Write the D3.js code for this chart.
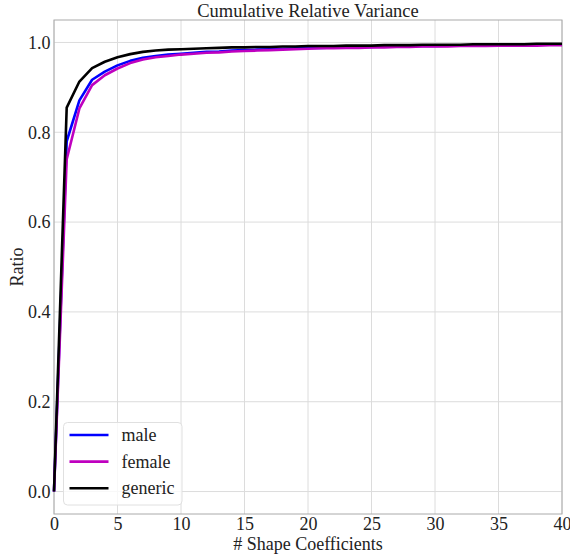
<!DOCTYPE html>
<html>
<head>
<meta charset="utf-8">
<script src="https://cdn.jsdelivr.net/npm/d3@7"></script>
<style>
body { margin: 0; background: #fff; }
text { font-family: "Liberation Serif", "DejaVu Serif", serif; fill: #222; }
</style>
</head>
<body>
<script>
// number of shape coefficients 0..40
var coeffs = d3.range(0, 41);
var male = [0, 0.78, 0.871, 0.917, 0.935, 0.949, 0.959, 0.966, 0.970, 0.973, 0.975, 0.977, 0.979, 0.980, 0.982, 0.983, 0.984, 0.985, 0.986, 0.987, 0.988, 0.988, 0.989, 0.989, 0.990, 0.990, 0.991, 0.991, 0.992, 0.992, 0.992, 0.993, 0.993, 0.993, 0.994, 0.994, 0.994, 0.994, 0.995, 0.995, 0.995];
var female = [0, 0.74, 0.853, 0.905, 0.927, 0.942, 0.954, 0.962, 0.967, 0.970, 0.973, 0.975, 0.977, 0.978, 0.980, 0.981, 0.982, 0.983, 0.984, 0.985, 0.986, 0.987, 0.987, 0.988, 0.988, 0.989, 0.989, 0.990, 0.990, 0.991, 0.991, 0.991, 0.992, 0.992, 0.992, 0.993, 0.993, 0.993, 0.993, 0.994, 0.994];
var generic = [0, 0.855, 0.913, 0.943, 0.957, 0.967, 0.974, 0.979, 0.982, 0.984, 0.985, 0.986, 0.987, 0.988, 0.989, 0.989, 0.990, 0.990, 0.991, 0.991, 0.992, 0.992, 0.992, 0.993, 0.993, 0.993, 0.994, 0.994, 0.994, 0.995, 0.995, 0.995, 0.995, 0.996, 0.996, 0.996, 0.996, 0.996, 0.997, 0.997, 0.997];
var seriesNames = ["male", "female", "generic"];
var seriesColors = ["#0000ff", "#bf00bf", "#000000"];
var xTicks = [0, 5, 10, 15, 20, 25, 30, 35, 40];
var yTicks = [0.0, 0.2, 0.4, 0.6, 0.8, 1.0];

var W = 570, H = 554;
var mLeft = 54, mRight = 562, mTop = 20, mBottom = 514;

var svg = d3.select("body").append("svg")
    .attr("width", W)
    .attr("height", H);

var x = d3.scaleLinear().domain([0, 40]).range([mLeft, mRight]);
var y = d3.scaleLinear().domain([-0.05, 1.05]).range([mBottom, mTop]);

// grid
svg.append("g").selectAll("line").data(xTicks).enter().append("line")
    .attr("x1", d => x(d)).attr("x2", d => x(d))
    .attr("y1", mTop).attr("y2", mBottom)
    .attr("stroke", "#dcdcdc").attr("stroke-width", 1);
svg.append("g").selectAll("line").data(yTicks).enter().append("line")
    .attr("x1", mLeft).attr("x2", mRight)
    .attr("y1", d => y(d)).attr("y2", d => y(d))
    .attr("stroke", "#dcdcdc").attr("stroke-width", 1);

// axes (labels only, no tick marks)
var xAxis = svg.append("g")
    .attr("transform", "translate(0," + mBottom + ")")
    .call(d3.axisBottom(x).tickValues(xTicks).tickSize(0).tickPadding(3).tickFormat(d3.format("d")));
var yAxis = svg.append("g")
    .attr("transform", "translate(" + mLeft + ",0)")
    .call(d3.axisLeft(y).tickValues(yTicks).tickSize(0).tickPadding(3.5).tickFormat(d3.format(".1f")));
[xAxis, yAxis].forEach(function(a) {
    a.select(".domain").remove();
    a.selectAll("text").attr("font-size", "18px").attr("font-family", "Liberation Serif, serif").attr("fill", "#222");
});

// frame
svg.append("rect")
    .attr("x", mLeft).attr("y", mTop)
    .attr("width", mRight - mLeft).attr("height", mBottom - mTop)
    .attr("fill", "none").attr("stroke", "#aaa").attr("stroke-width", 1);

// lines
var allSeries = [male, female, generic];
var line = d3.line().x((d, i) => x(coeffs[i])).y(d => y(d));
allSeries.forEach(function(s, i) {
    svg.append("path")
        .datum(s)
        .attr("d", line)
        .attr("fill", "none")
        .attr("stroke", seriesColors[i])
        .attr("stroke-width", 2.6)
        .attr("stroke-linejoin", "round");
});

// title and labels
svg.append("text")
    .attr("x", (mLeft + mRight) / 2).attr("y", 17)
    .attr("text-anchor", "middle")
    .attr("font-size", "18.5px")
    .text("Cumulative Relative Variance");
svg.append("text")
    .attr("x", (mLeft + mRight) / 2).attr("y", 550)
    .attr("text-anchor", "middle")
    .attr("font-size", "18px")
    .text("# Shape Coefficients");
svg.append("text")
    .attr("transform", "translate(23," + ((mTop + mBottom) / 2) + ") rotate(-90)")
    .attr("text-anchor", "middle")
    .attr("font-size", "18px")
    .text("Ratio");

// legend
var legend = svg.append("g").attr("transform", "translate(63.5,422.5)");
legend.append("rect")
    .attr("width", 118.5).attr("height", 82.5)
    .attr("rx", 4)
    .attr("fill", "#fff").attr("fill-opacity", 0.8)
    .attr("stroke", "#e0e0e0");
seriesNames.forEach(function(n, i) {
    var ly = 12.5 + i * 26.6;
    legend.append("line")
        .attr("x1", 6).attr("x2", 45)
        .attr("y1", ly).attr("y2", ly)
        .attr("stroke", seriesColors[i]).attr("stroke-width", 2.6);
    legend.append("text")
        .attr("x", 58).attr("y", ly + 6)
        .attr("font-size", "18px")
        .text(n);
});
</script>
</body>
</html>
